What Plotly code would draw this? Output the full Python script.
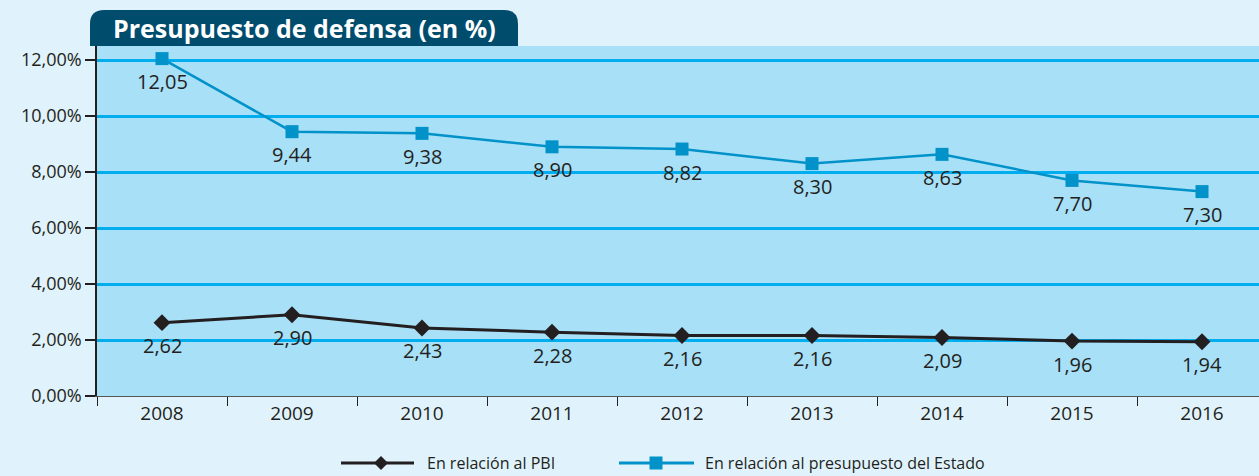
import plotly.graph_objects as go

years = ["2008", "2009", "2010", "2011", "2012", "2013", "2014", "2015", "2016"]
pbi = [2.62, 2.90, 2.43, 2.28, 2.16, 2.16, 2.09, 1.96, 1.94]
estado = [12.05, 9.44, 9.38, 8.90, 8.82, 8.30, 8.63, 7.70, 7.30]
pbi_labels = ["2,62", "2,90", "2,43", "2,28", "2,16", "2,16", "2,09", "1,96", "1,94"]
estado_labels = ["12,05", "9,44", "9,38", "8,90", "8,82", "8,30", "8,63", "7,70", "7,30"]
y_ticks = [0, 2, 4, 6, 8, 10, 12]
y_tick_labels = ["0,00%", "2,00%", "4,00%", "6,00%", "8,00%", "10,00%", "12,00%"]
series_names = ["En relación al PBI", "En relación al presupuesto del Estado"]

FONT = "Open Sans"
TXT = "#231f20"
BLACK = "#231f20"
BLUE = "#0092c9"

fig = go.Figure()
fig.add_trace(go.Scatter(
    x=years, y=pbi, name=series_names[0], mode="lines+markers",
    line=dict(color=BLACK, width=3),
    marker=dict(symbol="diamond", size=13, color=BLACK),
))
fig.add_trace(go.Scatter(
    x=years, y=estado, name=series_names[1], mode="lines+markers",
    line=dict(color=BLUE, width=2.5),
    marker=dict(symbol="square", size=13, color=BLUE),
))

# data labels below markers (category index positions on the x axis)
for ys, labs in [(pbi, pbi_labels), (estado, estado_labels)]:
    for i, (yv, lab) in enumerate(zip(ys, labs)):
        fig.add_annotation(x=i, y=yv, xref="x", yref="y", text=lab, showarrow=False,
                           yshift=-23, xanchor="center", yanchor="middle",
                           font=dict(family=FONT, size=20, color=TXT))

W, H = 1259, 476
L, T, B = 97, 46, 80
pw = W - L
ph = H - T - B

def px(x):
    return (x - L) / pw

def py(y):
    return (H - B - y) / ph

# title box with rounded top corners
x0, x1 = px(90), px(518)
y0, y1 = py(46), py(10)
rx, ry = 14 / pw, 14 / ph
path = (f"M {x0},{y0} L {x0},{y1-ry} Q {x0},{y1} {x0+rx},{y1} "
        f"L {x1-rx},{y1} Q {x1},{y1} {x1},{y1-ry} L {x1},{y0} Z")
fig.add_shape(type="path", path=path, xref="paper", yref="paper",
              fillcolor="#004c6d", line=dict(width=0), layer="above")
fig.add_annotation(x=px(304), y=py(28), xref="paper", yref="paper",
                   text="<b>Presupuesto de defensa (en %)</b>", showarrow=False,
                   font=dict(family=FONT, size=25, color="white"),
                   xanchor="center", yanchor="middle")

# custom legend
ly = py(463)
legend_items = [
    (series_names[0], BLACK, 341, 414, 381, "diamond", 425),
    (series_names[1], BLUE, 619, 694, 656, "square", 703),
]
for name, col, lx0, lx1, mx, sym, tx in legend_items:
    fig.add_shape(type="line", x0=px(lx0), x1=px(lx1), y0=ly, y1=ly,
                  xref="paper", yref="paper", line=dict(color=col, width=3))
    hx, hy = 7 / pw, 7 / ph
    if sym == "diamond":
        p = (f"M {px(mx)-hx},{ly} L {px(mx)},{ly+hy} L {px(mx)+hx},{ly} "
             f"L {px(mx)},{ly-hy} Z")
    else:
        sx, sy = 6.5 / pw, 6.5 / ph
        p = (f"M {px(mx)-sx},{ly-sy} L {px(mx)-sx},{ly+sy} L {px(mx)+sx},{ly+sy} "
             f"L {px(mx)+sx},{ly-sy} Z")
    fig.add_shape(type="path", path=p, xref="paper", yref="paper",
                  fillcolor=col, line=dict(width=0))
    fig.add_annotation(x=px(tx), y=ly, xref="paper", yref="paper", text=name,
                       showarrow=False, xanchor="left", yanchor="middle",
                       font=dict(family=FONT, size=16, color=TXT))

fig.update_layout(
    width=W, height=H,
    margin=dict(l=L, r=0, t=T, b=B),
    paper_bgcolor="#e0f3fc",
    plot_bgcolor="#a8e0f8",
    separators=",.",
    showlegend=False,
    xaxis=dict(
        type="category", range=[-0.5, 8.5 - 8 / 130], tickson="boundaries",
        ticks="outside", ticklen=9, tickcolor=BLACK, tickwidth=1.2,
        showline=True, linecolor="#555555", linewidth=1.2,
        showgrid=False, tickfont=dict(family=FONT, size=19, color=TXT),
    ),
    yaxis=dict(
        range=[0, 12.5], tickvals=y_ticks, ticktext=y_tick_labels,
        ticks="outside", ticklen=10, tickcolor=BLACK, tickwidth=2,
        showline=True, linecolor=BLACK, linewidth=1.5,
        showgrid=True, gridcolor="#00aeef", gridwidth=2.5, zeroline=False,
        tickfont=dict(family=FONT, size=18, color=TXT),
    ),
)

fig.write_html("out.html", config={"displayModeBar": False},
               post_script="document.body.style.margin='0';document.body.style.padding='0';")
